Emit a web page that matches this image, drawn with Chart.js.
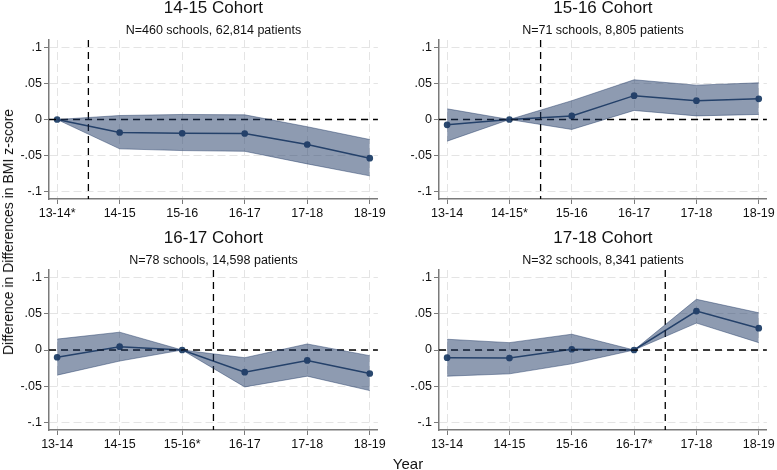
<!DOCTYPE html>
<html>
<head>
<meta charset="utf-8">
<script src="https://cdn.jsdelivr.net/npm/chart.js@4.4.1/dist/chart.umd.min.js"></script>
<style>
  html, body { margin: 0; padding: 0; background: #fff; }
  #wrap { position: relative; width: 777px; height: 470px; overflow: hidden; font-family: "Liberation Sans", Arial, sans-serif; }
  .panel { position: absolute; }
  #ylab { position: absolute; left: 8px; top: 232px; transform: translate(-50%, -50%) rotate(-90deg); white-space: nowrap; font-size: 14px; color: #111; }
  #xlab { position: absolute; left: 408px; top: 463px; transform: translate(-50%, -50%); font-size: 15px; color: #111; }
</style>
</head>
<body>
<div id="wrap">
  <div class="panel" style="left:0;top:0;width:388px;height:224px"><canvas id="c0"></canvas></div>
  <div class="panel" style="left:390px;top:0;width:387px;height:224px"><canvas id="c1"></canvas></div>
  <div class="panel" style="left:0;top:230px;width:388px;height:225px"><canvas id="c2"></canvas></div>
  <div class="panel" style="left:390px;top:230px;width:387px;height:225px"><canvas id="c3"></canvas></div>
  <div id="ylab">Difference in Differences in BMI z-score</div>
  <div id="xlab">Year</div>
</div>
<script>
// Data
const years = ['13-14', '14-15', '15-16', '16-17', '17-18', '18-19'];
const yTickValues = [-0.1, -0.05, 0, 0.05, 0.1];
const yTickLabels = ['-.1', '-.05', '0', '.05', '.1'];

const cohortTitles = ['14-15 Cohort', '15-16 Cohort', '16-17 Cohort', '17-18 Cohort'];
const cohortNotes = [
    'N=460 schools, 62,814 patients',
    'N=71 schools, 8,805 patients',
    'N=78 schools, 14,598 patients',
    'N=32 schools, 8,341 patients'
];
// index of the reference (starred) year in each cohort
const baseYear = [0, 1, 2, 3];

const est1415 = [0, -0.018, -0.019, -0.0194, -0.0346, -0.0535];
const upper1415 = [0, 0.0055, 0.007, 0.0065, -0.010, -0.0277];
const lower1415 = [0, -0.0406, -0.043, -0.044, -0.0614, -0.078];

const est1516 = [-0.0074, 0, 0.005, 0.033, 0.026, 0.0286];
const upper1516 = [0.0148, 0, 0.026, 0.055, 0.0475, 0.0508];
const lower1516 = [-0.030, 0, -0.0138, 0.0125, 0.005, 0.007];

const est1617 = [-0.010, 0.0046, 0, -0.0305, -0.0143, -0.0323];
const upper1617 = [0.015, 0.0245, 0, -0.0106, 0.0083, -0.0078];
const lower1617 = [-0.0346, -0.0152, 0, -0.0508, -0.036, -0.0558];

const est1718 = [-0.0106, -0.011, 0.001, 0, 0.0535, 0.030];
const upper1718 = [0.0148, 0.0101, 0.0217, 0, 0.0697, 0.0512];
const lower1718 = [-0.036, -0.0328, -0.019, 0, 0.037, 0.0101];

const estimates = [est1415, est1516, est1617, est1718];
const uppers = [upper1415, upper1516, upper1617, upper1718];
const lowers = [lower1415, lower1516, lower1617, lower1718];

const FONT = '"Liberation Sans", Arial, sans-serif';
const bandFill = 'rgba(30, 55, 100, 0.5)';
const bandEdge = 'rgba(30, 55, 100, 0.45)';
const lineColor = '#2b4a70';

function toPoints(arr) {
    return arr.map((v, i) => ({ x: i, y: v }));
}

// zero line and treatment line, drawn over the band but under the estimate line
const refLines = {
    id: 'refLines',
    afterDatasetDraw(chart, args, opts) {
        if (args.index !== 1) return;
        const { ctx, chartArea, scales } = chart;
        ctx.save();
        ctx.strokeStyle = '#000';
        ctx.lineWidth = 1.3;
        ctx.setLineDash([7, 5]);
        const y0 = scales.y.getPixelForValue(0);
        ctx.beginPath();
        ctx.moveTo(chartArea.left, y0);
        ctx.lineTo(chartArea.right, y0);
        ctx.stroke();
        const xv = scales.x.getPixelForValue(opts.at);
        ctx.beginPath();
        ctx.moveTo(xv, chartArea.top);
        ctx.lineTo(xv, chartArea.bottom);
        ctx.stroke();
        ctx.restore();
    }
};

function makePanel(k) {
    const rightPad = (k % 2 === 0) ? 10 : 9;
    new Chart(document.getElementById('c' + k), {
        type: 'line',
        data: {
            datasets: [
                {
                    data: toPoints(uppers[k]),
                    borderColor: bandEdge,
                    borderWidth: 1,
                    backgroundColor: bandFill,
                    fill: '+1',
                    pointRadius: 0
                },
                {
                    data: toPoints(lowers[k]),
                    borderColor: bandEdge,
                    borderWidth: 1,
                    fill: false,
                    pointRadius: 0
                },
                {
                    data: toPoints(estimates[k]),
                    borderColor: lineColor,
                    borderWidth: 1.5,
                    backgroundColor: lineColor,
                    pointBackgroundColor: lineColor,
                    pointBorderColor: lineColor,
                    pointRadius: 2.6,
                    fill: false
                }
            ]
        },
        options: {
            responsive: true,
            maintainAspectRatio: false,
            animation: false,
            layout: { padding: { left: 0, right: rightPad, top: 0, bottom: 0 } },
            plugins: {
                legend: { display: false },
                tooltip: { enabled: false },
                title: {
                    display: true,
                    text: cohortTitles[k],
                    fullSize: false,
                    color: '#111',
                    font: { family: FONT, size: 17, weight: 'normal', lineHeight: 1 },
                    padding: { top: 0, bottom: 0 }
                },
                subtitle: {
                    display: true,
                    text: cohortNotes[k],
                    fullSize: false,
                    color: '#111',
                    font: { family: FONT, size: 12.5, weight: 'normal', lineHeight: 1 },
                    padding: { top: 7, bottom: 3.5 }
                },
                refLines: { at: baseYear[k] + 0.5 }
            },
            scales: {
                x: {
                    type: 'linear',
                    min: -0.13,
                    max: 5.13,
                    afterBuildTicks: s => { s.ticks = years.map((y, i) => ({ value: i })); },
                    afterFit: s => { s.height = 25; },
                    ticks: {
                        autoSkip: false,
                        maxRotation: 0,
                        padding: 2,
                        color: '#111',
                        font: { family: FONT, size: 12.5 },
                        callback: v => years[v] + (v === baseYear[k] ? '*' : '')
                    },
                    grid: { color: '#e4e4e4', tickColor: '#7a7a7a', tickLength: 5, lineWidth: 1 },
                    border: { display: true, color: '#7a7a7a', width: 1.5, dash: [8, 4] }
                },
                y: {
                    min: -0.11,
                    max: 0.11,
                    afterBuildTicks: s => { s.ticks = yTickValues.map(v => ({ value: v })); },
                    afterFit: s => { s.width = 49; },
                    ticks: {
                        padding: 2,
                        color: '#111',
                        font: { family: FONT, size: 12.5 },
                        callback: v => yTickLabels[yTickValues.findIndex(t => Math.abs(t - v) < 1e-9)]
                    },
                    grid: { color: '#e4e4e4', tickColor: '#7a7a7a', tickLength: 5, lineWidth: 1 },
                    border: { display: true, color: '#7a7a7a', width: 1.5, dash: [8, 4] }
                }
            }
        },
        plugins: [refLines]
    });
}

[0, 1, 2, 3].forEach(makePanel);
</script>
</body>
</html>
